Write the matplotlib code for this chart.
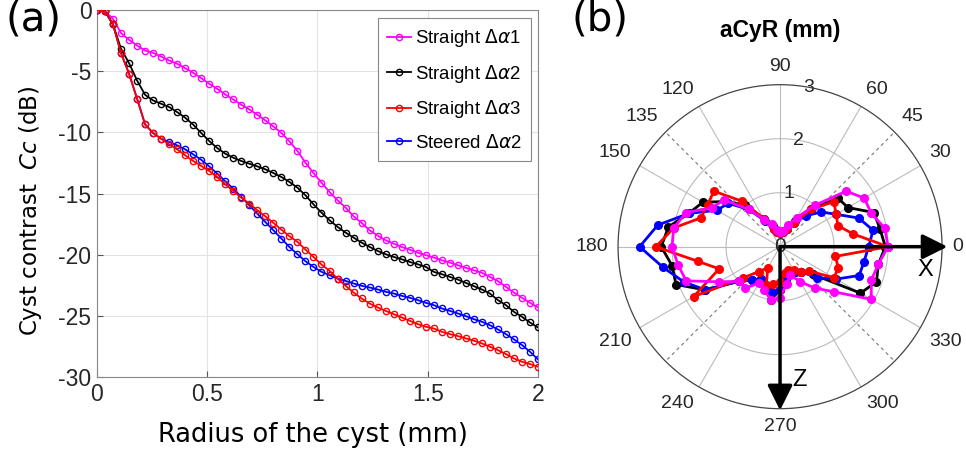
import matplotlib
matplotlib.use("Agg")
import matplotlib.pyplot as plt
import numpy as np

plt.rcParams["font.family"] = ["Liberation Sans", "DejaVu Sans"]
plt.rcParams["axes.unicode_minus"] = False

# ---- (a) cyst contrast vs radius ----
radius = np.linspace(0, 2, 56)
cc_straight1 = [0, -0.1, -0.72, -1.89, -2.43, -2.9, -3.31, -3.5, -3.8, -4.12,
                -4.39, -4.75, -5.13, -5.56, -6.03, -6.44, -6.9, -7.31, -7.74, -8.12,
                -8.56, -9.02, -9.51, -10.05, -10.73, -11.52, -12.48, -13.32, -14.11, -14.87,
                -15.55, -16.15, -16.86, -17.4, -18.0, -18.44, -18.82, -19.09, -19.37, -19.58,
                -19.83, -20.04, -20.23, -20.45, -20.64, -20.86, -21.07, -21.27, -21.48, -21.81,
                -22.16, -22.63, -23.09, -23.52, -23.93, -24.31]
cc_straight2 = [0, -0.1, -1.18, -3.17, -4.34, -5.76, -6.93, -7.39, -7.66, -7.93,
                -8.34, -8.8, -9.37, -10.05, -10.71, -11.28, -11.74, -12.07, -12.34, -12.56,
                -12.78, -13.02, -13.32, -13.65, -14.05, -14.52, -15.14, -15.88, -16.56, -17.18,
                -17.72, -18.19, -18.6, -19.01, -19.36, -19.69, -19.96, -20.18, -20.37, -20.59,
                -20.78, -20.99, -21.4, -21.59, -21.81, -22.03, -22.3, -22.57, -22.84, -23.17,
                -23.71, -24.12, -24.67, -25.07, -25.54, -25.95]
cc_straight3 = [0, -0.1, -1.18, -3.52, -5.21, -7.25, -9.35, -10.05, -10.52, -10.98,
                -11.39, -11.88, -12.34, -12.75, -13.16, -13.65, -14.25, -14.79, -15.34, -15.82,
                -16.37, -16.86, -17.4, -17.95, -18.49, -18.95, -19.58, -20.18, -20.8, -21.32,
                -21.95, -22.54, -23.09, -23.58, -23.99, -24.31, -24.59, -24.86, -25.13, -25.4,
                -25.67, -25.89, -26.03, -26.3, -26.49, -26.65, -26.84, -27.03, -27.25, -27.52,
                -27.8, -28.12, -28.48, -28.75, -28.94, -29.16]
cc_steered2 = [0, -0.1, -1.18, -3.52, -5.21, -7.25, -9.35, -10.05, -10.52, -10.79,
               -11.06, -11.39, -11.8, -12.24, -12.78, -13.37, -14.0, -14.6, -15.28, -15.96,
               -16.65, -17.33, -18.0, -18.68, -19.37, -19.96, -20.53, -21.0, -21.4, -21.67,
               -21.95, -22.14, -22.35, -22.54, -22.68, -22.84, -23.03, -23.17, -23.36, -23.52,
               -23.71, -23.93, -24.12, -24.39, -24.59, -24.8, -25.02, -25.27, -25.48, -25.76,
               -26.11, -26.49, -26.92, -27.38, -27.93, -28.56]

# ---- (b) aCyR polar, radius (mm) every 10 degrees ----
theta_deg = np.arange(0, 360, 10)
acyr_straight1 = [2.0, 1.97, 1.8, 1.8, 1.6, 1.0, 0.62, 0.42, 0.3, 0.28, 0.32, 0.45,
                  0.58, 0.9, 1.35, 1.45, 1.85, 2.0, 2.0, 1.92, 1.85, 1.3, 1.0, 1.0,
                  0.78, 0.85, 1.0, 0.95, 0.7, 0.56, 0.75, 1.0, 1.3, 1.95, 1.8, 1.85]
acyr_straight2 = [1.95, 1.88, 1.85, 1.45, 1.4, 0.9, 0.55, 0.35, 0.3, 0.28, 0.3, 0.4,
                  0.6, 1.0, 1.3, 1.65, 1.8, 2.1, 2.2, 2.03, 2.05, 1.6, 1.0, 0.8,
                  0.7, 0.8, 1.0, 0.8, 0.6, 0.5, 0.55, 0.6, 0.8, 1.72, 1.9, 1.85]
acyr_straight3 = [2.0, 1.37, 1.14, 1.2, 1.3, 0.9, 0.5, 0.35, 0.28, 0.25, 0.28, 0.35,
                  0.6, 1.1, 1.6, 1.55, 1.56, 2.0, 2.3, 1.55, 1.2, 1.85, 0.9, 0.6,
                  0.45, 0.75, 0.7, 0.65, 0.5, 0.45, 0.5, 0.6, 0.7, 1.15, 1.15, 1.04]
acyr_steered2 = [1.64, 1.75, 1.55, 1.2, 1.0, 0.75, 0.5, 0.35, 0.28, 0.25, 0.28, 0.35,
                 0.55, 0.9, 1.25, 1.35, 1.8, 2.3, 2.6, 2.2, 1.9, 1.6, 1.0, 0.8,
                 0.7, 0.75, 0.85, 0.8, 0.6, 0.5, 0.55, 0.6, 0.9, 1.2, 1.56, 1.58]

labels = [r"Straight $\Delta\alpha$1", r"Straight $\Delta\alpha$2",
          r"Straight $\Delta\alpha$3", r"Steered $\Delta\alpha$2"]
colors = ["#ff00ff", "black", "#ff0000", "#0000ff"]

fig = plt.figure(figsize=(9.66, 4.57), dpi=100)

# left panel
ax = fig.add_axes([0.1004, 0.175, 0.4565, 0.803])
series = [cc_straight1, cc_straight2, cc_straight3, cc_steered2]
zs = [3, 3, 4, 2]
handles = []
for vals, c, lab, z in zip(series, colors, labels, zs):
    h, = ax.plot(radius, vals, "-o", color=c, lw=1.3, ms=4.5, mfc="none",
                 mew=1.0, label=lab, zorder=z)
    handles.append(h)
ax.set_xlim(0, 2)
ax.set_ylim(-30, 0)
ax.set_xticks([0, 0.5, 1, 1.5, 2])
ax.set_xticklabels(["0", "0.5", "1", "1.5", "2"])
ax.set_yticks(range(-30, 1, 5))
ax.grid(True, color="#e3e3e3", lw=0.8)
ax.set_axisbelow(True)
ax.tick_params(direction="in", length=4, labelsize=16.5, colors="#555555",
               labelcolor="#262626", pad=4)
for sp in ax.spines.values():
    sp.set_color("#888888")
ax.set_xlabel("Radius of the cyst (mm)", fontsize=18.5, family="DejaVu Sans")
ax.set_ylabel("Cyst contrast  $Cc$ (dB)", fontsize=16.5, family="DejaVu Sans")
ax.xaxis.set_label_coords(0.49, -0.122)
ax.yaxis.set_label_coords(-0.12, 0.452)
leg = ax.legend(handles=handles, loc="upper right", bbox_to_anchor=(0.984, 0.978),
                fontsize=13.4, handlelength=1.3, handletextpad=0.2,
                labelspacing=0.72, borderpad=0.5, borderaxespad=0,
                fancybox=False, framealpha=1)
leg.get_frame().set_edgecolor("#888888")
leg.get_frame().set_linewidth(0.8)

fig.text(0.006, 1.0, "(a)", fontsize=29, va="top", ha="left", family="DejaVu Sans")
fig.text(0.592, 1.0, "(b)", fontsize=29, va="top", ha="left", family="DejaVu Sans")
fig.text(780 / 966, 1 - 31 / 457, "aCyR (mm)", fontsize=16.5, weight="bold",
         ha="center", va="center")

# right panel (polar)
pa = fig.add_axes([0.6398, 0.1057, 0.3354, 0.709], projection="polar")
pa.set_ylim(0, 3)
pa.set_xticks([])
pa.set_yticks([])
pa.grid(False)
pa.spines["polar"].set_color("#444444")
pa.spines["polar"].set_linewidth(0.9)

tt = np.linspace(0, 2 * np.pi, 361)
for k in [1, 2]:
    pa.plot(tt, np.full_like(tt, k), color="#bbbbbb", lw=0.8, zorder=1)
for a in range(0, 360, 30):
    th = np.deg2rad(a)
    pa.plot([th, th], [0, 3], color="#bbbbbb", lw=0.8, zorder=1)
for a in [45, 135, 225, 315]:
    th = np.deg2rad(a)
    pa.plot([th, th], [0.3, 3], color="#777777", lw=0.8, ls=(0, (3, 3)), zorder=1)

theta_labels = [0, 30, 45, 60, 90, 120, 135, 150, 180, 210, 240, 270, 300, 330]
for a in theta_labels:
    th = np.deg2rad(a)
    c, s = np.cos(th), np.sin(th)
    ha = "left" if c > 0.3 else ("right" if c < -0.3 else "center")
    va = "bottom" if s > 0.3 else ("top" if s < -0.3 else "center")
    pa.annotate(str(a), xy=(th, 3), xytext=(7 * c, 7 * s), textcoords="offset points",
                ha=ha, va=va, fontsize=14, color="#262626", annotation_clip=False)
for k in [1, 2, 3]:
    pa.text(np.deg2rad(80), k, str(k), fontsize=14, color="#262626",
            ha="center", va="center", zorder=2)
pa.text(0, 0, "0", fontsize=15, color="#262626", ha="center", va="center", zorder=2)

polar_series = [acyr_straight2, acyr_steered2, acyr_straight3, acyr_straight1]
polar_colors = ["black", "#0000ff", "#ff0000", "#ff00ff"]
for vals, c in zip(polar_series, polar_colors):
    th = np.deg2rad(np.append(theta_deg, theta_deg[0]))
    rr = np.append(vals, vals[0])
    pa.plot(th, rr, "-o", color=c, lw=2.0, ms=5.5, zorder=3)

arrow = dict(arrowstyle="-|>", lw=2.5, color="black", mutation_scale=38,
             shrinkA=0, shrinkB=0)
pa.annotate("", xy=(0, 3.1), xytext=(0, 0), arrowprops=arrow, annotation_clip=False,
            zorder=5)
pa.annotate("", xy=(1.5 * np.pi, 3.03), xytext=(0, 0), arrowprops=arrow,
            annotation_clip=False, zorder=5)
pa.text(np.deg2rad(-9), 2.72, "X", fontsize=17, ha="center", va="center")
pa.text(np.deg2rad(-81.5), 2.5, "Z", fontsize=17, ha="center", va="center")

fig.savefig("out.png", dpi=100)
